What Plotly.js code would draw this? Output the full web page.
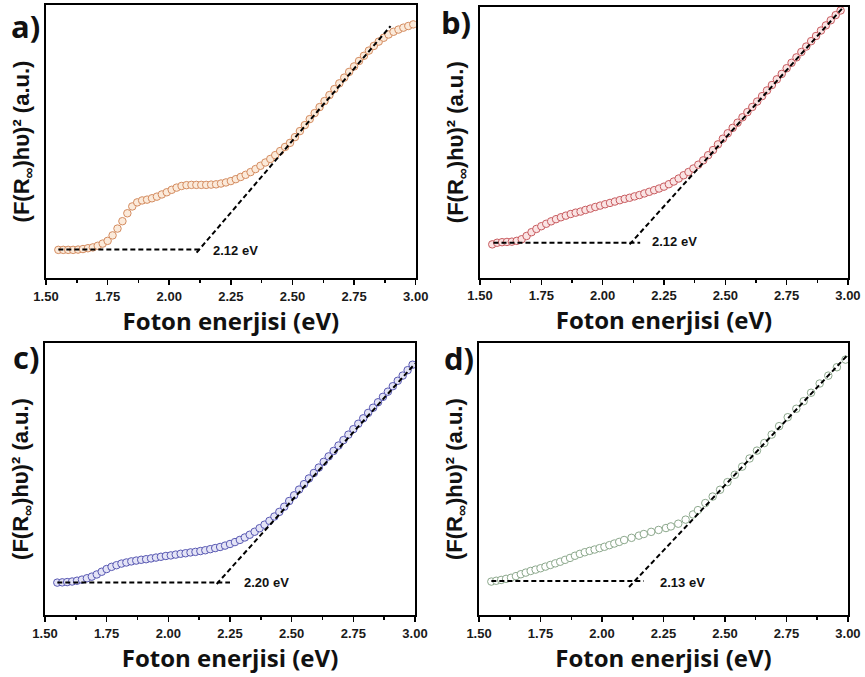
<!DOCTYPE html>
<html>
<head>
<meta charset="utf-8">
<script src="https://cdn.plot.ly/plotly-3.0.1.min.js"></script>
<style>html,body{margin:0;padding:0;background:#fff;}#chart{width:865px;height:677px;}</style>
</head>
<body>
<div id="chart"></div>
<script>
// ---------- data ----------
const tickValues = [1.5, 1.75, 2.0, 2.25, 2.5, 2.75, 3.0];
const tickLabels = ['1.50', '1.75', '2.00', '2.25', '2.50', '2.75', '3.00'];

const energy = [1.55,1.57,1.59,1.61,1.63,1.65,1.67,1.69,1.71,1.73,1.75,1.77,1.79,1.81,1.83,1.85,1.87,1.89,1.91,1.93,1.95,1.97,1.99,2.01,2.03,2.05,2.07,2.09,2.11,2.13,2.15,2.17,2.19,2.21,2.23,2.25,2.27,2.29,2.31,2.33,2.35,2.37,2.39,2.41,2.43,2.45,2.47,2.49,2.51,2.53,2.55,2.57,2.59,2.61,2.63,2.65,2.67,2.69,2.71,2.73,2.75,2.77,2.79,2.81,2.83,2.85,2.87,2.89,2.91,2.93,2.95,2.97,2.99];

const signalA = [10.3,10.3,10.3,10.3,10.4,10.6,10.9,11.2,11.8,12.6,
  13.6,15.6,18.1,20.8,23.7,26.2,27.7,28.4,28.7,29.2,
  29.8,30.6,31.4,32.3,33.1,33.7,34.0,34.1,34.1,34.1,
  34.1,34.2,34.3,34.6,35.0,35.5,36.2,37.0,37.8,38.8,
  39.9,41.1,42.3,43.6,45.0,46.5,48.0,49.5,51.6,53.8,
  56.0,58.2,60.4,62.6,64.8,67.0,69.2,71.3,73.4,75.5,
  77.5,79.5,81.4,83.3,85.0,86.6,88.0,89.2,90.2,91.0,
  91.7,92.3,92.9];

const signalB = [12.3,12.9,13.1,13.2,13.3,13.6,14.2,15.4,16.8,18.0,
  19.0,19.9,20.8,21.6,22.3,22.9,23.5,24.0,24.4,25.0,
  25.5,26.1,26.6,27.1,27.6,28.1,28.6,29.1,29.5,30.0,
  30.5,31.1,31.7,32.3,32.9,33.6,34.5,35.5,36.6,37.8,
  39.0,40.3,41.7,43.3,45.2,47.1,49.2,51.3,53.3,55.3,
  57.2,59.2,61.1,63.0,65.0,67.0,69.1,71.1,73.2,75.2,
  77.3,79.3,81.3,83.3,85.3,87.3,89.2,91.2,93.1,95.0,
  96.9,98.6];

const signalC = [11.9,12.0,12.1,12.3,12.6,13.0,13.5,14.1,14.9,15.9,
  16.9,17.7,18.3,18.9,19.3,19.7,20.0,20.3,20.5,20.8,
  21.1,21.4,21.7,21.9,22.2,22.5,22.7,23.0,23.2,23.5,
  23.8,24.2,24.6,25.0,25.5,26.1,26.8,27.6,28.5,29.5,
  30.6,31.9,33.2,34.6,36.2,37.9,39.8,41.9,44.0,46.1,
  48.1,50.2,52.2,54.2,56.3,58.3,60.3,62.3,64.3,66.3,
  68.3,70.3,72.3,74.3,76.2,78.2,80.2,82.1,84.1,86.1,
  88.0,90.0,92.0];

const energyD = [1.55,1.57,1.59,1.61,1.63,1.65,1.67,1.69,1.71,1.73,1.75,1.77,1.79,1.81,1.83,1.85,1.87,1.89,1.91,1.93,1.95,1.97,1.99,2.01,2.03,2.05,2.07,2.09,
  2.12,2.15,2.17,2.20,2.23,2.26,2.28,2.31,2.34,2.37,2.39,2.42,2.45,2.48,2.51,2.54,
  2.57,2.60,2.63,2.66,2.69,2.72,2.755,2.79,2.82,2.85,2.885,2.92,2.955,2.99];
const signalD = [12.3,12.6,12.9,13.3,13.7,14.3,15.0,15.6,16.2,16.7,
  17.2,17.8,18.4,19.0,19.6,20.3,21.0,21.8,22.5,23.1,
  23.6,24.1,24.6,25.1,25.7,26.3,26.9,27.6,
  28.4,29.2,29.8,30.6,31.3,32.0,32.6,33.6,35.1,37.0,38.6,41.2,43.6,46.1,48.9,51.6,
  54.6,57.6,60.5,63.3,66.4,69.5,72.8,75.9,78.7,81.8,85.2,88.1,91.2,94.0];

// extrapolation lines (baseline and tangent)
const baseAx = [1.55, 2.125], baseAy = [10.4, 10.4];
const tanAx = [2.111, 2.898], tanAy = [9.3, 92.3];
const baseBx = [1.555, 2.153], baseBy = [12.9, 12.9];
const tanBx = [2.11, 2.977], tanBy = [12.3, 99.4];
const baseCx = [1.55, 2.25], baseCy = [11.9, 11.9];
const tanCx = [2.196, 3.0], tanCy = [11.4, 92.4];
const baseDx = [1.55, 2.17], baseDy = [12.5, 12.5];
const tanDx = [2.11, 3.0], tanDy = [10.3, 95.8];

const gapLabels = ['2.12 eV', '2.12 eV', '2.20 eV', '2.13 eV'];
const gapLabelX = [2.17, 2.194, 2.297, 2.228];
const gapLabelY = [10.1, 13.3, 11.9, 12.0];
const panelLetters = ['a)', 'b)', 'c)', 'd)'];

// ---------- styling ----------
const markerStyles = [
  {line: 'rgb(212,140,96)', fill: 'rgb(251,234,218)'},
  {line: 'rgb(200,92,96)', fill: 'rgb(250,228,228)'},
  {line: 'rgb(88,88,178)', fill: 'rgb(228,228,246)'},
  {line: 'rgb(140,168,140)', fill: 'rgb(255,255,255)'}
];
const xDomains = [[0.0532, 0.4806], [0.5549, 0.9803], [0.0520, 0.4798], [0.5538, 0.9803]];
const yDomains = [[0.5894, 0.9926], [0.5898, 0.9901], [0.0916, 0.4934], [0.0916, 0.4929]];

const series = [
  {x: energy, y: signalA, bx: baseAx, by: baseAy, tx: tanAx, ty: tanAy},
  {x: energy.slice(0, signalB.length), y: signalB, bx: baseBx, by: baseBy, tx: tanBx, ty: tanBy},
  {x: energy, y: signalC, bx: baseCx, by: baseCy, tx: tanCx, ty: tanCy},
  {x: energyD, y: signalD, bx: baseDx, by: baseDy, tx: tanDx, ty: tanDy}
];

const traces = [];
const layout = {
  width: 865, height: 677,
  margin: {l: 0, r: 0, t: 0, b: 0},
  paper_bgcolor: '#fff', plot_bgcolor: '#fff',
  showlegend: false,
  annotations: []
};
const dashStyle = {color: '#000', width: 2, dash: '5px,3px'};
const tickFont = {family: 'Liberation Sans, Arial, sans-serif', size: 13, color: '#1a1a1a', weight: 'bold'};

series.forEach((s, i) => {
  const n = i === 0 ? '' : String(i + 1);
  const xa = 'x' + n, ya = 'y' + n;
  traces.push({x: s.x, y: s.y, xaxis: xa, yaxis: ya, type: 'scatter', mode: 'markers',
    marker: {symbol: 'circle', size: 7.5, color: markerStyles[i].fill, line: {color: markerStyles[i].line, width: 1}},
    hoverinfo: 'skip'});
  traces.push({x: s.bx, y: s.by, xaxis: xa, yaxis: ya, type: 'scatter', mode: 'lines', line: dashStyle, hoverinfo: 'skip'});
  traces.push({x: s.tx, y: s.ty, xaxis: xa, yaxis: ya, type: 'scatter', mode: 'lines', line: dashStyle, hoverinfo: 'skip'});

  layout['xaxis' + n] = {
    domain: xDomains[i], anchor: ya, range: [1.5, 3.0],
    showline: true, linewidth: 2, linecolor: '#000', mirror: true,
    ticks: 'outside', ticklen: 5, tickwidth: 1.5, tickcolor: '#000',
    tickmode: 'array', tickvals: tickValues, ticktext: tickLabels, tickfont: tickFont,
    minor: {ticks: 'outside', ticklen: 3, tickwidth: 1.5, tickcolor: '#000', dtick: 0.125, tick0: 1.5, showgrid: false},
    showgrid: false, zeroline: false,
    title: {text: 'Foton enerjisi (eV)', standoff: 9,
      font: {family: 'Open Sans, Noto Sans, sans-serif', size: 24, color: '#111', weight: 'bold'}}
  };
  layout['yaxis' + n] = {
    domain: yDomains[i], anchor: xa, range: [0, 100],
    showline: true, linewidth: 2, linecolor: '#000', mirror: true,
    ticks: '', showticklabels: false, showgrid: false, zeroline: false,
    title: {text: '(F(R<sub>∞</sub>)hυ)² (a.u.)', standoff: 8,
      font: {family: 'Liberation Sans, Arial, sans-serif', size: 22, color: '#111', weight: 'bold'}}
  };
  layout.annotations.push({xref: xa, yref: ya, x: gapLabelX[i], y: gapLabelY[i], text: gapLabels[i],
    showarrow: false, xanchor: 'left', yanchor: 'middle',
    font: {family: 'Liberation Sans, Arial, sans-serif', size: 13, color: '#111', weight: 'bold'}});
});

const letterPos = [[0.03, 0.962], [0.527, 0.967], [0.03, 0.4727], [0.5305, 0.471]];
panelLetters.forEach((t, i) => {
  layout.annotations.push({xref: 'paper', yref: 'paper', x: letterPos[i][0], y: letterPos[i][1], text: t,
    showarrow: false, xanchor: 'center', yanchor: 'middle',
    font: {family: 'Open Sans, Noto Sans, sans-serif', size: 31, color: '#111', weight: 'bold'}});
});

Plotly.newPlot('chart', traces, layout, {displayModeBar: false, staticPlot: true});
</script>
</body>
</html>
